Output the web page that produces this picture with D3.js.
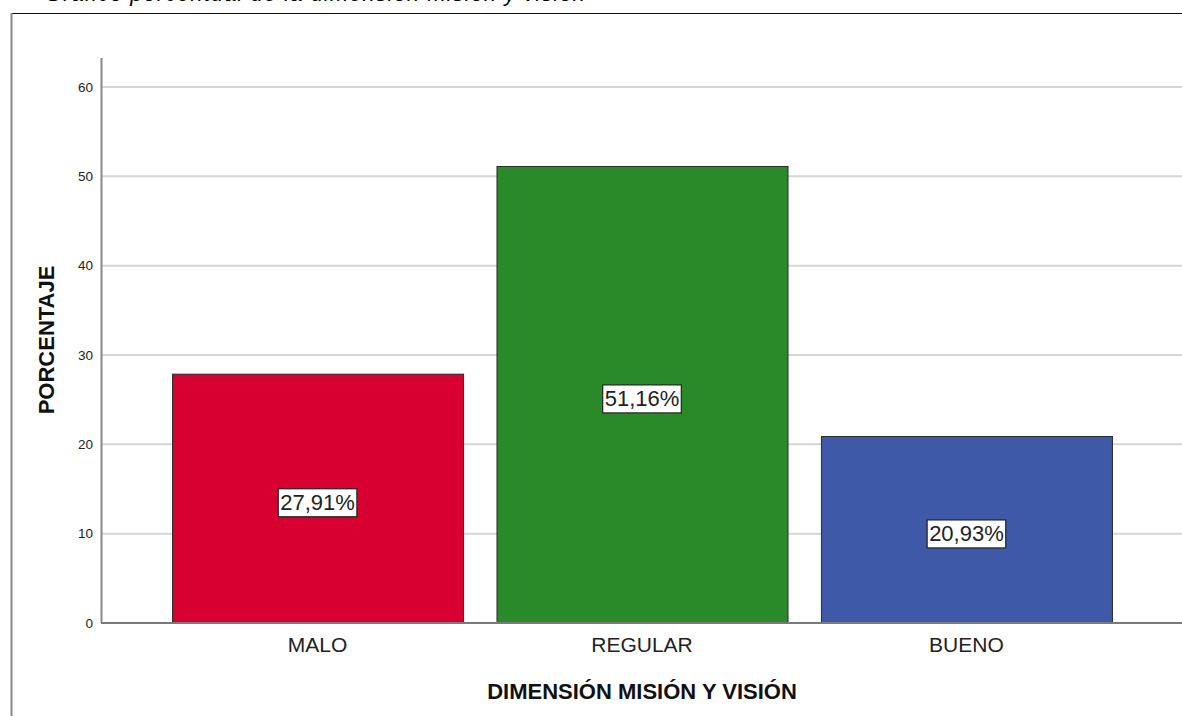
<!DOCTYPE html>
<html>
<head>
<meta charset="utf-8">
<script src="https://cdn.jsdelivr.net/npm/d3@7"></script>
<style>
  html, body { margin: 0; padding: 0; background: #fff; }
  svg { display: block; font-family: Arial, "Liberation Sans", Helvetica, sans-serif; }
</style>
</head>
<body>
<svg id="chart" width="1182" height="716"></svg>
<script>
// Percentage distribution by category
const categories = ["MALO", "REGULAR", "BUENO"];
const percentages = [27.91, 51.16, 20.93];
const barColors = ["#d80030", "#2a8a2a", "#3e59a8"];
const yTicks = [0, 10, 20, 30, 40, 50, 60];
const titleText = "Gráfico porcentual de la dimensión misión y visión";
const xTitle = "DIMENSIÓN MISIÓN Y VISIÓN";
const yTitle = "PORCENTAJE";

const svg = d3.select("#chart");
const W = 1182, H = 716;
const FONT = "Arial, 'Liberation Sans', sans-serif";

// Caption above the frame (only its lower edge falls inside the page)
svg.append("text")
  .attr("x", 45).attr("y", 1)
  .attr("font-size", 22).attr("font-style", "italic")
  .attr("textLength", 540).attr("lengthAdjust", "spacing")
  .attr("fill", "#000")
  .text(titleText);

// Outer frame
svg.append("line").attr("x1", 11).attr("x2", W).attr("y1", 13.5).attr("y2", 13.5)
  .attr("stroke", "#111").attr("stroke-width", 1.2);
svg.append("line").attr("x1", 11.5).attr("x2", 11.5).attr("y1", 13).attr("y2", H)
  .attr("stroke", "#888").attr("stroke-width", 2);

const x = d3.scaleBand()
  .domain(categories)
  .range([101, 1183])
  .paddingInner(0.103)
  .paddingOuter(0.219);

const y = d3.scaleLinear()
  .domain([0, 60])
  .range([623, 87]);

// Horizontal grid lines
svg.append("g")
  .selectAll("line")
  .data(yTicks.filter(d => d > 0))
  .join("line")
  .attr("x1", 101).attr("x2", W)
  .attr("y1", d => y(d)).attr("y2", d => y(d))
  .attr("stroke", "#d6d6d6").attr("stroke-width", 2);

// Y axis
const yAxis = d3.axisLeft(y).tickValues(yTicks).tickSize(0).tickPadding(8);
const gy = svg.append("g").attr("transform", "translate(101,0)").call(yAxis);
gy.select(".domain").remove();
gy.selectAll("text").attr("font-size", 13.5).attr("fill", "#222").attr("font-family", FONT);
svg.append("line").attr("x1", 101.5).attr("x2", 101.5).attr("y1", 58).attr("y2", 623)
  .attr("stroke", "#8a8a8a").attr("stroke-width", 2);

// Bars
svg.append("g")
  .selectAll("rect")
  .data(categories)
  .join("rect")
  .attr("x", d => x(d) + 0.5)
  .attr("y", (d, i) => y(percentages[i]) + 0.5)
  .attr("width", x.bandwidth())
  .attr("height", (d, i) => y(0) - y(percentages[i]))
  .attr("fill", (d, i) => barColors[i])
  .attr("stroke", "#2a2a2a").attr("stroke-width", 1);

// X axis
const xAxis = d3.axisBottom(x).tickSize(0).tickPadding(14);
const gx = svg.append("g").attr("transform", "translate(0,623)").call(xAxis);
gx.select(".domain").remove();
gx.selectAll("text").attr("font-size", 21).attr("fill", "#222").attr("font-family", FONT);
svg.append("line").attr("x1", 101).attr("x2", W).attr("y1", 623).attr("y2", 623)
  .attr("stroke", "#7a7a7a").attr("stroke-width", 2);

// Value labels in boxes, placed slightly below each bar's midpoint
const labels = svg.append("g")
  .selectAll("g")
  .data(categories)
  .join("g")
  .attr("transform", (d, i) => `translate(${x(d) + x.bandwidth() / 2},${(y(percentages[i]) + y(0)) / 2 + 4})`);

labels.append("text")
  .attr("text-anchor", "middle")
  .attr("dy", "0.36em")
  .attr("font-size", 22)
  .attr("fill", "#222")
  .text((d, i) => percentages[i].toFixed(2).replace(".", ",") + "%")
  .each(function () {
    const b = this.getBBox();
    d3.select(this.parentNode).insert("rect", "text")
      .attr("x", b.x - 2).attr("y", b.y - 1.5)
      .attr("width", b.width + 4).attr("height", b.height + 3)
      .attr("fill", "#fff").attr("stroke", "#222").attr("stroke-width", 1.2);
  });

// Axis titles
svg.append("text")
  .attr("x", 642).attr("y", 699)
  .attr("text-anchor", "middle")
  .attr("font-size", 22).attr("font-weight", "bold").attr("fill", "#111")
  .text(xTitle);

svg.append("text")
  .attr("transform", "translate(54,340) rotate(-90)")
  .attr("text-anchor", "middle")
  .attr("font-size", 22).attr("font-weight", "bold").attr("fill", "#111")
  .text(yTitle);
</script>
</body>
</html>
